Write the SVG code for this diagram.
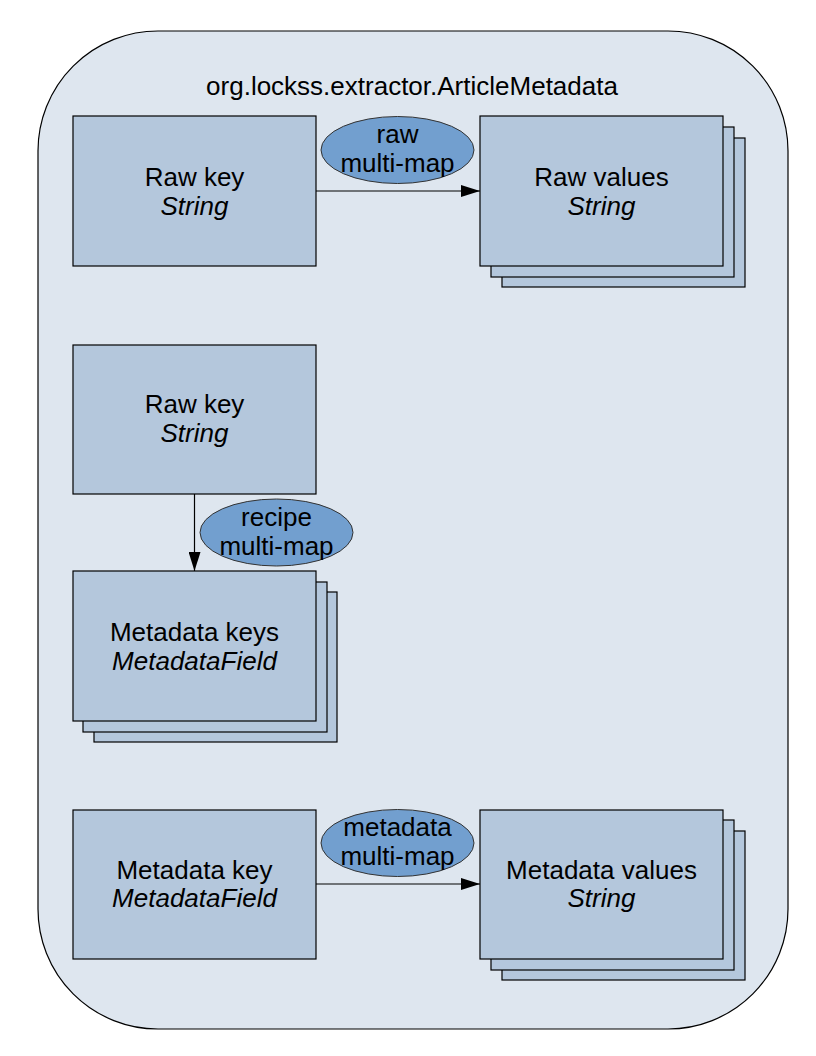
<svg xmlns="http://www.w3.org/2000/svg" width="816" height="1056" viewBox="0 0 816 1056">
<style>
.box{fill:#b4c7dc;stroke:#000;stroke-width:1.2}
.ell{fill:#729fcf;stroke:#333;stroke-width:1}
.t{font-family:"Liberation Sans",Arial,sans-serif;font-size:26px;fill:#000;text-anchor:middle}
.i{font-style:italic}
.c{stroke:#000;stroke-width:1.2;fill:none}
</style>
<defs>
<marker id="arr" markerUnits="userSpaceOnUse" markerWidth="20" markerHeight="12" refX="19" refY="6" orient="auto">
<path d="M0,0 L19,6 L0,12 Z" fill="#000"/>
</marker>
</defs>
<rect width="816" height="1056" fill="#fff"/>
<g id="container">
<rect x="38" y="31" width="750" height="998" rx="120" ry="120" fill="#dee6ef" stroke="#000" stroke-width="1.2"/>
<text class="t" x="412" y="95">org.lockss.extractor.ArticleMetadata</text>
</g>
<g id="connectors">
<line class="c" x1="316" y1="191" x2="480" y2="191" marker-end="url(#arr)"/>
<line class="c" x1="194.5" y1="494" x2="194.5" y2="571" marker-end="url(#arr)"/>
<line class="c" x1="316" y1="884" x2="480" y2="884" marker-end="url(#arr)"/>
</g>
<g id="rawkey1">
<rect class="box" x="73" y="116" width="243" height="150"/>
<text class="t" x="194.5" y="186">Raw key</text>
<text class="t i" x="194.5" y="215">String</text>
</g>
<g id="rawvalues">
<rect class="box" x="502" y="138" width="243" height="149"/>
<rect class="box" x="491" y="127" width="243" height="150"/>
<rect class="box" x="480" y="116" width="243" height="150"/>
<text class="t" x="601.5" y="186">Raw values</text>
<text class="t i" x="601.5" y="215">String</text>
</g>
<g id="rawmultimap">
<ellipse class="ell" cx="397.5" cy="150" rx="76.5" ry="33.5"/>
<text class="t" x="397.5" y="143">raw</text>
<text class="t" x="397.5" y="172">multi-map</text>
</g>
<g id="rawkey2">
<rect class="box" x="73" y="345" width="243" height="149"/>
<text class="t" x="194.5" y="413">Raw key</text>
<text class="t i" x="194.5" y="442">String</text>
</g>
<g id="metadatakeys">
<rect class="box" x="94" y="592" width="243" height="150"/>
<rect class="box" x="83" y="582" width="244" height="150"/>
<rect class="box" x="73" y="571" width="243" height="150"/>
<text class="t" x="194.5" y="641">Metadata keys</text>
<text class="t i" x="194.5" y="670">MetadataField</text>
</g>
<g id="recipemultimap">
<ellipse class="ell" cx="276.5" cy="532.5" rx="76.5" ry="33.5"/>
<text class="t" x="276.5" y="526">recipe</text>
<text class="t" x="276.5" y="555">multi-map</text>
</g>
<g id="metadatakey">
<rect class="box" x="73" y="810" width="243" height="149"/>
<text class="t" x="194.5" y="879">Metadata key</text>
<text class="t i" x="194.5" y="907">MetadataField</text>
</g>
<g id="metadatavalues">
<rect class="box" x="502" y="831" width="243" height="149"/>
<rect class="box" x="491" y="820" width="243" height="150"/>
<rect class="box" x="480" y="810" width="243" height="149"/>
<text class="t" x="601.5" y="879">Metadata values</text>
<text class="t i" x="601.5" y="907">String</text>
</g>
<g id="metadatamultimap">
<ellipse class="ell" cx="397.5" cy="843" rx="76.5" ry="33.5"/>
<text class="t" x="397.5" y="836">metadata</text>
<text class="t" x="397.5" y="865">multi-map</text>
</g>
</svg>
